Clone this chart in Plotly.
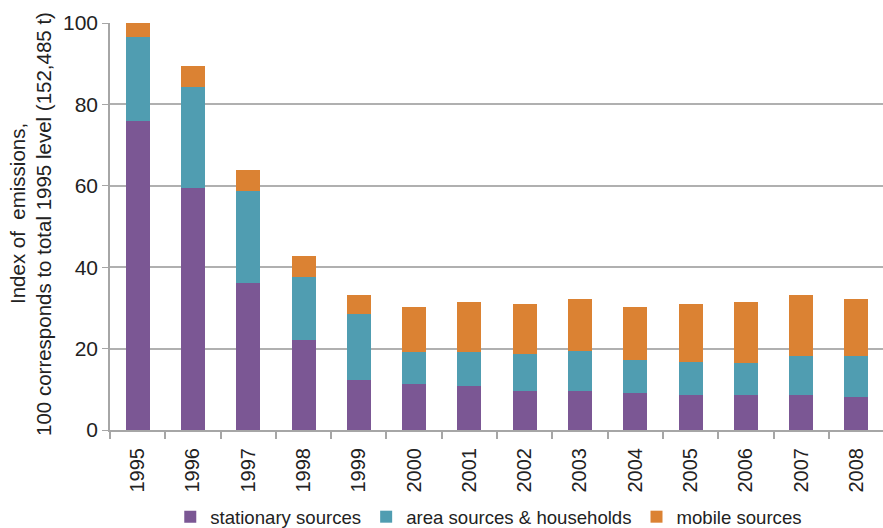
import plotly.graph_objects as go

# Emission index by year, split by source group (1995 total = 100)
years = ["1995", "1996", "1997", "1998", "1999", "2000", "2001",
         "2002", "2003", "2004", "2005", "2006", "2007", "2008"]
stationary = [75.9, 59.5, 36.0, 22.1, 12.3, 11.3, 10.9, 9.7, 9.5, 9.0, 8.7, 8.5, 8.7, 8.0]
area_households = [20.7, 24.7, 22.7, 15.4, 16.2, 7.8, 8.2, 8.9, 9.8, 8.2, 8.0, 7.9, 9.5, 10.2]
mobile = [3.4, 5.2, 5.1, 5.2, 4.6, 11.0, 12.3, 12.3, 12.8, 12.9, 14.2, 15.0, 14.9, 14.1]

series_names = ["stationary sources", "area sources & households", "mobile sources"]
colors = ["#7b5794", "#509db1", "#db8233"]

title_lines = ["Index of\u00a0 emissions,", "100 corresponds to total 1995 level (152,485 t)"]

FONT = "Liberation Sans, Arial, Helvetica, sans-serif"

fig = go.Figure()
for name, vals, col in zip(series_names, [stationary, area_households, mobile], colors):
    fig.add_trace(go.Bar(x=years, y=vals, name=name, marker=dict(color=col, line=dict(width=0))))

# Two-line vertical y-axis caption, one annotation per line
title_pos = [(-0.1203, 0.5307), (-0.0867, 0.5061)]
annotations = [
    dict(
        text=txt,
        textangle=-90,
        xref="paper", yref="paper",
        x=px, y=py,
        xanchor="center", yanchor="middle",
        showarrow=False,
        font=dict(size=20.5, color="#222222"),
    )
    for txt, (px, py) in zip(title_lines, title_pos)
]

fig.update_layout(
    barmode="stack",
    bargap=0.566,
    width=883,
    height=528,
    margin=dict(l=110, r=0, t=23, b=98, autoexpand=False),
    paper_bgcolor="white",
    plot_bgcolor="white",
    font=dict(family=FONT, size=19, color="#222222"),
    legend=dict(
        orientation="h",
        x=0.49, xanchor="center",
        y=-0.214, yanchor="middle",
        font=dict(size=18.6, color="#222222"),
        itemwidth=30,
        traceorder="normal",
    ),
    xaxis=dict(
        type="category",
        range=[-0.5, 13.48],
        automargin=False,
        showgrid=False,
        showline=True,
        linecolor="#a6a6a6",
        linewidth=2,
        ticks="outside",
        tickson="boundaries",
        ticklen=7,
        tickcolor="#a6a6a6",
        tickwidth=1.5,
        tickangle=-90,
        ticklabelstandoff=8,
        tickfont=dict(size=20),
    ),
    yaxis=dict(
        range=[0, 100],
        automargin=False,
        tickvals=[0, 20, 40, 60, 80, 100],
        showgrid=True,
        gridcolor="#b0b0b0",
        gridwidth=1.5,
        showline=True,
        linecolor="#a6a6a6",
        linewidth=1.5,
        ticks="outside",
        ticklen=6,
        tickcolor="#a6a6a6",
        tickfont=dict(size=21),
        zeroline=False,
    ),
    annotations=annotations,
)

fig.write_html("out.html")
